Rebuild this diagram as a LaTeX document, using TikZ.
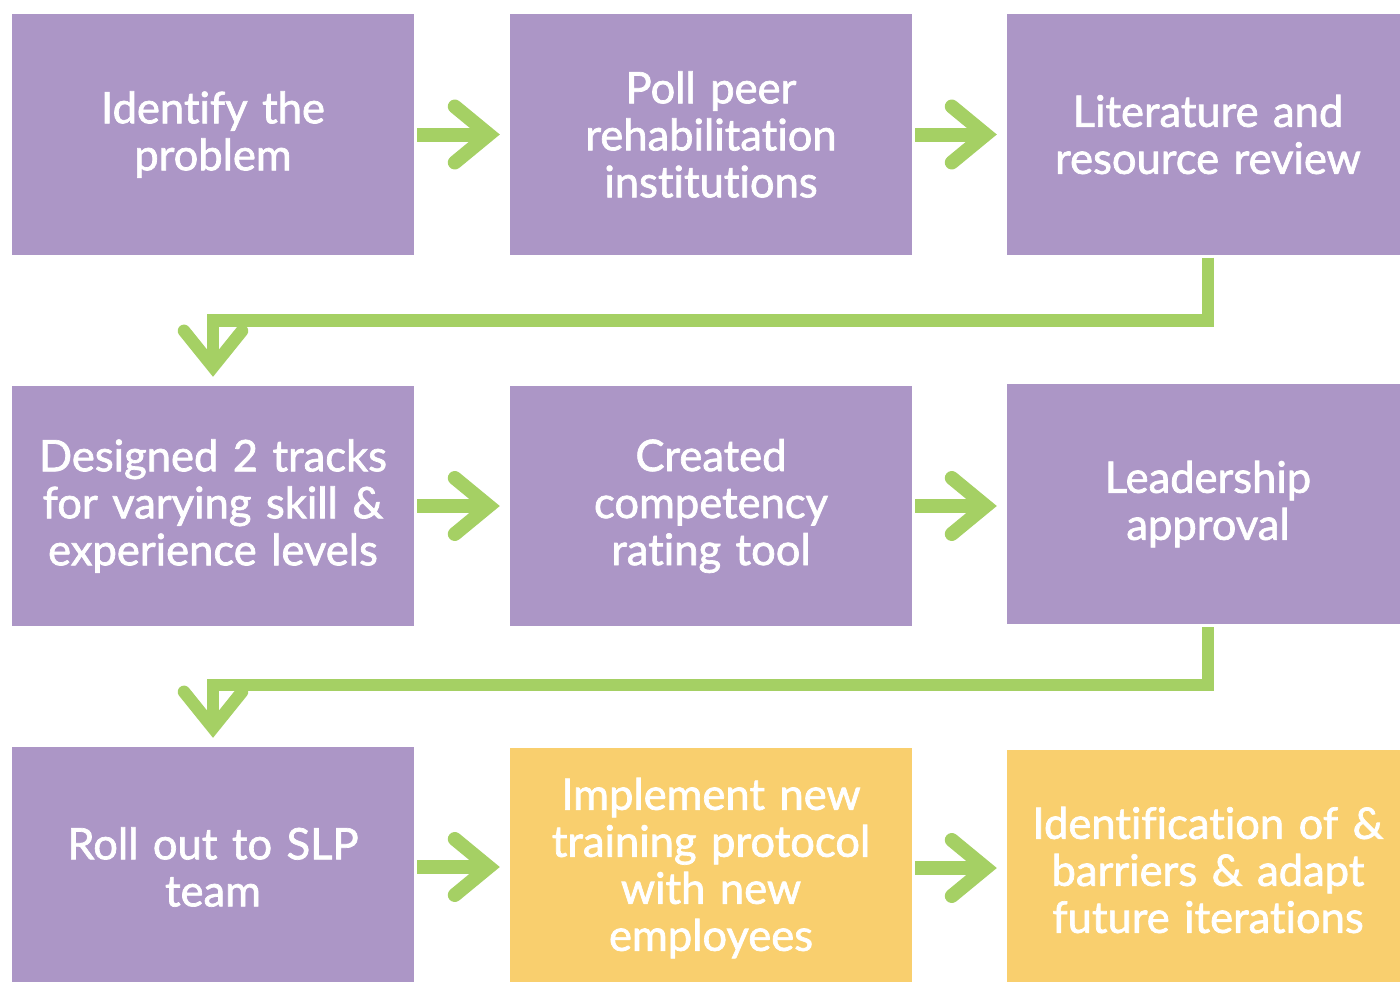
\documentclass[tikz,border=0pt]{standalone}
\usepackage{fontspec}
\setmainfont[FakeBold=1.6, RawFeature={-liga;-calt;-clig}]{Lato}
\usetikzlibrary{arrows.meta}
\definecolor{boxpurple}{HTML}{AC96C6}
\definecolor{boxyellow}{HTML}{F9CF6E}
\definecolor{arrgreen}{HTML}{A5D064}
\tikzset{
  stepbox/.style={rectangle, fill=boxpurple, draw=none, minimum width=402pt, minimum height=240pt,
    inner sep=0pt, text width=395pt, align=center, text=white,
    font=\fontsize{43.5}{47}\selectfont},
  ybox/.style={stepbox, fill=boxyellow},
  harr/.style={draw=arrgreen, line width=14pt, shorten <=3pt, shorten >=10pt,
    -{Straight Barb[length=34pt, width=56pt, line cap=round, line join=miter]}},
  varr/.style={draw=arrgreen, line width=12.5pt, shorten <=3pt, shorten >=9pt,
    -{Straight Barb[length=36pt, width=58pt, line cap=round, line join=miter]}}
}
\begin{document}
\begin{tikzpicture}[x=1pt, y=-1pt]
\clip (0,0) rectangle (1400,982);
\fill[white] (0,0) rectangle (1400,982);
\node[stepbox] (A1) at (213,134.5) {Identify the\\problem};
\node[stepbox] (A2) at (711,134.5) {Poll peer\\rehabilitation\\institutions};
\node[stepbox] (A3) at (1208,134.5) {Literature and\\resource review};
\node[stepbox] (B1) at (213,506) {Designed 2 tracks\\for varying skill \&\\experience levels};
\node[stepbox] (B2) at (711,506) {Created\\competency\\rating tool};
\node[stepbox] (B3) at (1208,504) {Leadership\\approval};
\node[stepbox] (C1) at (213,867) {Roll out to SLP\\team};
\node[ybox] (C2) at (711,868) {Implement new\\training protocol\\with new\\employees};
\node[ybox] (C3) at (1208,870) {Identification of \&\\barriers \& adapt\\future iterations};
\draw[harr] (A1.east) -- (A1.east -| A2.west);
\draw[harr] (A2.east) -- (A2.east -| A3.west);
\draw[harr] (B1.east) -- (B2.west);
\draw[harr] (B2.east) -- (B2.east -| B3.west);
\draw[harr] (C1.east) -- (C1.east -| C2.west);
\draw[harr] (C2.east) -- (C2.east -| C3.west);
\draw[varr] (A3.south) -- ++(0,66) -| (B1.north);
\draw[varr] (B3.south) -- ++(0,61) -| (C1.north);
\end{tikzpicture}
\end{document}
